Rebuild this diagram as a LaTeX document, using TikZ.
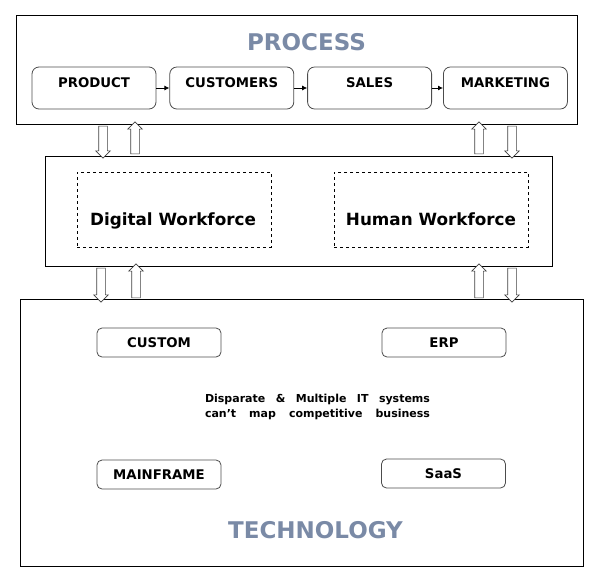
\documentclass[tikz,border=0pt]{standalone}
\usepackage{fontspec}
\setmainfont{DejaVu Sans}
\usepackage{tikz}
\usetikzlibrary{arrows.meta, positioning, shapes.arrows}

\definecolor{titlegray}{RGB}{122,138,166}

\begin{document}
\begin{tikzpicture}[
  x=1pt, y=-1pt,
  layer/.style = {draw, line width=0.9pt, inner sep=0pt},
  procbox/.style = {draw=black!70, line width=0.8pt, rounded corners=7pt, minimum width=124pt, minimum height=42pt, inner sep=0pt, font=\fontsize{13.3}{15}\selectfont\bfseries, text height=9.5pt, text depth=10pt},
  techbox/.style = {draw=black!70, line width=0.8pt, rounded corners=5pt, minimum width=124pt, minimum height=29pt, inner sep=0pt, font=\fontsize{13.3}{15}\selectfont\bfseries},
  dashbox/.style = {draw, dashed, line width=0.6pt, minimum width=194pt, minimum height=75pt, inner sep=0pt},
  wflabel/.style = {font=\fontsize{16.8}{19}\selectfont\bfseries, inner sep=0pt, anchor=base},
  bigtitle/.style = {text=titlegray, font=\fontsize{23}{26}\selectfont\bfseries, inner sep=0pt},
  hollow/.style = {single arrow, draw=black!75, line width=0.6pt, fill=white, minimum height=32pt, inner sep=0pt, inner ysep=4pt, single arrow head extend=3pt, single arrow head indent=0pt},
  arrow/.style = {line width=0.8pt, -{Latex[length=5pt, width=5pt]}},
  node distance=13pt
]
  \useasboundingbox (0,0) rectangle (598,582);

  % Process layer
  \node[layer, minimum width=561pt, minimum height=109pt] (process) at (296.5,69.5) {};
  \node[bigtitle] (proctitle) at (306.5,42) {PROCESS};

  \node[procbox] (product) at (94,88) {PRODUCT};
  \node[procbox, right=of product] (customers) {CUSTOMERS};
  \node[procbox, right=of customers] (sales) {SALES};
  \node[procbox, right=11pt of sales] (marketing) {MARKETING};

  \draw[arrow] (product) -- (customers);
  \draw[arrow] (customers) -- (sales);
  \draw[arrow] (sales) -- (marketing);

  % Workforce layer
  \node[layer, minimum width=507pt, minimum height=110pt] (workforce) at (298.5,211) {};
  \node[dashbox] (digital) at (174,209.5) {};
  \node[dashbox] (human) at (431,209.5) {};
  \node[wflabel] (digitallbl) at (173,225.5) {Digital Workforce};
  \node[wflabel] (humanlbl) at (431,225.5) {Human Workforce};

  % Technology layer
  \node[layer, minimum width=563pt, minimum height=267pt] (technology) at (301.5,433) {};
  \node[techbox] (custom) at (159,342.5) {CUSTOM};
  \node[techbox] (erp) at (444,342.5) {ERP};
  \node[techbox] (mainframe) at (159,474.5) {MAINFRAME};
  \node[techbox] (saas) at (443.5,473.5) {SaaS};
  \node[align=center, inner sep=0pt, font=\fontsize{11}{15}\selectfont\bfseries] (disparate) at (317.5,406.5) {%
    \makebox[225pt][s]{Disparate \& Multiple IT systems}\\
    \makebox[225pt][s]{can’t map competitive business}};
  \node[bigtitle] (techtitle) at (315.5,530) {TECHNOLOGY};

  % Hollow arrows between the layers
  \node[hollow, rotate=-90] (pw1) at (103,140) {};
  \node[hollow, rotate=90] (wp1) at (135,140) {};
  \node[hollow, rotate=90] (wp2) at (479,140) {};
  \node[hollow, rotate=-90] (pw2) at (512,140) {};
  \node[hollow, rotate=-90, minimum height=34pt] (wt1) at (101,283) {};
  \node[hollow, rotate=90, minimum height=34pt] (tw1) at (136,283) {};
  \node[hollow, rotate=90, minimum height=34pt] (tw2) at (479,283) {};
  \node[hollow, rotate=-90, minimum height=34pt] (wt2) at (512,283) {};

\end{tikzpicture}
\end{document}
